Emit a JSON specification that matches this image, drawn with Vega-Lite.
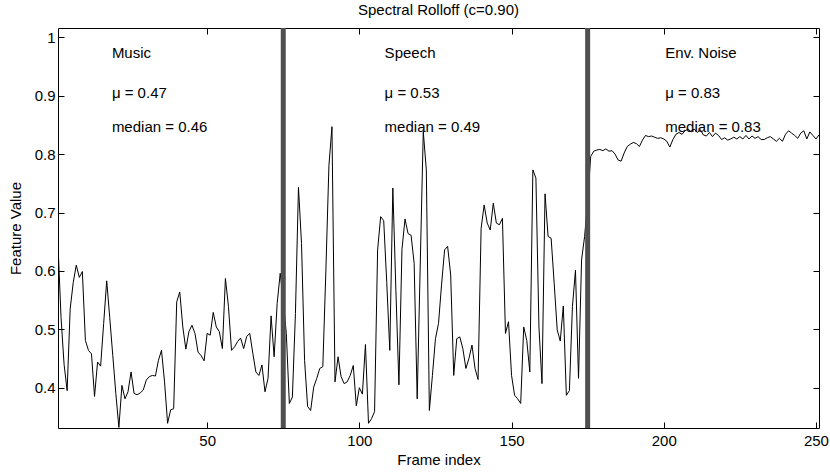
{
  "$schema": "https://vega.github.io/schema/vega-lite/v6.json",
  "width": 761,
  "height": 400,
  "autosize": {"type": "none"},
  "padding": {"left": 58, "top": 28, "right": 11, "bottom": 44},
  "background": "white",
  "config": {
    "font": "Liberation Sans",
    "view": {"stroke": "black", "strokeWidth": 1},
    "axis": {
      "domain": false,
      "grid": false,
      "ticks": true,
      "tickSize": -6,
      "tickColor": "black",
      "tickWidth": 1,
      "labelFont": "Liberation Sans",
      "labelFontSize": 15,
      "labelColor": "black",
      "titleFont": "Liberation Sans",
      "titleFontSize": 15,
      "titleFontWeight": "normal",
      "titleColor": "black"
    },
    "title": {"font": "Liberation Sans", "fontSize": 15, "fontWeight": "normal", "color": "black"}
  },
  "title": {"text": "Spectral Rolloff (c=0.90)", "baseline": "bottom", "offset": 6, "dy": 13},
  "datasets": {
    "series": [
      {"frame":1,"value":0.645},{"frame":2,"value":0.52},{"frame":3,"value":0.44},{"frame":4,"value":0.395},{"frame":5,"value":0.535},
      {"frame":6,"value":0.58},{"frame":7,"value":0.61},{"frame":8,"value":0.589},{"frame":9,"value":0.599},{"frame":10,"value":0.481},
      {"frame":11,"value":0.464},{"frame":12,"value":0.458},{"frame":13,"value":0.385},{"frame":14,"value":0.444},{"frame":15,"value":0.437},
      {"frame":16,"value":0.51},{"frame":17,"value":0.583},{"frame":18,"value":0.52},{"frame":19,"value":0.455},{"frame":20,"value":0.39},
      {"frame":21,"value":0.332},{"frame":22,"value":0.404},{"frame":23,"value":0.381},{"frame":24,"value":0.393},{"frame":25,"value":0.427},
      {"frame":26,"value":0.39},{"frame":27,"value":0.388},{"frame":28,"value":0.391},{"frame":29,"value":0.396},{"frame":30,"value":0.413},
      {"frame":31,"value":0.419},{"frame":32,"value":0.421},{"frame":33,"value":0.42},{"frame":34,"value":0.447},{"frame":35,"value":0.464},
      {"frame":36,"value":0.41},{"frame":37,"value":0.339},{"frame":38,"value":0.362},{"frame":39,"value":0.364},{"frame":40,"value":0.547},
      {"frame":41,"value":0.564},{"frame":42,"value":0.504},{"frame":43,"value":0.466},{"frame":44,"value":0.496},{"frame":45,"value":0.507},
      {"frame":46,"value":0.493},{"frame":47,"value":0.461},{"frame":48,"value":0.455},{"frame":49,"value":0.446},{"frame":50,"value":0.493},
      {"frame":51,"value":0.49},{"frame":52,"value":0.529},{"frame":53,"value":0.504},{"frame":54,"value":0.496},{"frame":55,"value":0.467},
      {"frame":56,"value":0.587},{"frame":57,"value":0.539},{"frame":58,"value":0.464},{"frame":59,"value":0.47},{"frame":60,"value":0.479},
      {"frame":61,"value":0.485},{"frame":62,"value":0.467},{"frame":63,"value":0.488},{"frame":64,"value":0.493},{"frame":65,"value":0.459},
      {"frame":66,"value":0.427},{"frame":67,"value":0.421},{"frame":68,"value":0.439},{"frame":69,"value":0.393},{"frame":70,"value":0.416},
      {"frame":71,"value":0.523},{"frame":72,"value":0.453},{"frame":73,"value":0.544},{"frame":74,"value":0.596},{"frame":75,"value":0.55},
      {"frame":76,"value":0.493},{"frame":77,"value":0.373},{"frame":78,"value":0.384},{"frame":79,"value":0.527},{"frame":80,"value":0.743},
      {"frame":81,"value":0.647},{"frame":82,"value":0.447},{"frame":83,"value":0.368},{"frame":84,"value":0.361},{"frame":85,"value":0.401},
      {"frame":86,"value":0.416},{"frame":87,"value":0.433},{"frame":88,"value":0.436},{"frame":89,"value":0.6},{"frame":90,"value":0.78},
      {"frame":91,"value":0.847},{"frame":92,"value":0.41},{"frame":93,"value":0.453},{"frame":94,"value":0.419},{"frame":95,"value":0.407},
      {"frame":96,"value":0.41},{"frame":97,"value":0.421},{"frame":98,"value":0.438},{"frame":99,"value":0.369},{"frame":100,"value":0.4},
      {"frame":101,"value":0.389},{"frame":102,"value":0.474},{"frame":103,"value":0.339},{"frame":104,"value":0.347},{"frame":105,"value":0.359},
      {"frame":106,"value":0.636},{"frame":107,"value":0.693},{"frame":108,"value":0.686},{"frame":109,"value":0.58},{"frame":110,"value":0.464},
      {"frame":111,"value":0.742},{"frame":112,"value":0.567},{"frame":113,"value":0.405},{"frame":114,"value":0.637},{"frame":115,"value":0.689},
      {"frame":116,"value":0.664},{"frame":117,"value":0.661},{"frame":118,"value":0.613},{"frame":119,"value":0.381},{"frame":120,"value":0.61},
      {"frame":121,"value":0.839},{"frame":122,"value":0.773},{"frame":123,"value":0.361},{"frame":124,"value":0.421},{"frame":125,"value":0.484},
      {"frame":126,"value":0.51},{"frame":127,"value":0.576},{"frame":128,"value":0.636},{"frame":129,"value":0.642},{"frame":130,"value":0.593},
      {"frame":131,"value":0.421},{"frame":132,"value":0.484},{"frame":133,"value":0.487},{"frame":134,"value":0.467},{"frame":135,"value":0.433},
      {"frame":136,"value":0.45},{"frame":137,"value":0.473},{"frame":138,"value":0.433},{"frame":139,"value":0.414},{"frame":140,"value":0.673},
      {"frame":141,"value":0.713},{"frame":142,"value":0.682},{"frame":143,"value":0.67},{"frame":144,"value":0.716},{"frame":145,"value":0.682},
      {"frame":146,"value":0.679},{"frame":147,"value":0.69},{"frame":148,"value":0.493},{"frame":149,"value":0.513},{"frame":150,"value":0.421},
      {"frame":151,"value":0.387},{"frame":152,"value":0.381},{"frame":153,"value":0.373},{"frame":154,"value":0.504},{"frame":155,"value":0.481},
      {"frame":156,"value":0.427},{"frame":157,"value":0.773},{"frame":158,"value":0.759},{"frame":159,"value":0.504},{"frame":160,"value":0.407},
      {"frame":161,"value":0.732},{"frame":162,"value":0.659},{"frame":163,"value":0.656},{"frame":164,"value":0.579},{"frame":165,"value":0.499},
      {"frame":166,"value":0.48},{"frame":167,"value":0.54},{"frame":168,"value":0.387},{"frame":169,"value":0.395},{"frame":170,"value":0.539},
      {"frame":171,"value":0.601},{"frame":172,"value":0.416},{"frame":173,"value":0.619},{"frame":174,"value":0.659},{"frame":175,"value":0.72},
      {"frame":176,"value":0.796},{"frame":177,"value":0.805},{"frame":178,"value":0.807},{"frame":179,"value":0.808},{"frame":180,"value":0.806},
      {"frame":181,"value":0.809},{"frame":182,"value":0.805},{"frame":183,"value":0.806},{"frame":184,"value":0.8},{"frame":185,"value":0.79},
      {"frame":186,"value":0.788},{"frame":187,"value":0.802},{"frame":188,"value":0.813},{"frame":189,"value":0.817},{"frame":190,"value":0.82},
      {"frame":191,"value":0.818},{"frame":192,"value":0.813},{"frame":193,"value":0.824},{"frame":194,"value":0.832},{"frame":195,"value":0.83},
      {"frame":196,"value":0.831},{"frame":197,"value":0.829},{"frame":198,"value":0.827},{"frame":199,"value":0.828},{"frame":200,"value":0.826},
      {"frame":201,"value":0.822},{"frame":202,"value":0.812},{"frame":203,"value":0.825},{"frame":204,"value":0.834},{"frame":205,"value":0.837},
      {"frame":206,"value":0.834},{"frame":207,"value":0.84},{"frame":208,"value":0.843},{"frame":209,"value":0.838},{"frame":210,"value":0.843},
      {"frame":211,"value":0.837},{"frame":212,"value":0.842},{"frame":213,"value":0.833},{"frame":214,"value":0.831},{"frame":215,"value":0.837},
      {"frame":216,"value":0.83},{"frame":217,"value":0.836},{"frame":218,"value":0.832},{"frame":219,"value":0.825},{"frame":220,"value":0.828},
      {"frame":221,"value":0.824},{"frame":222,"value":0.826},{"frame":223,"value":0.829},{"frame":224,"value":0.826},{"frame":225,"value":0.83},
      {"frame":226,"value":0.826},{"frame":227,"value":0.832},{"frame":228,"value":0.826},{"frame":229,"value":0.831},{"frame":230,"value":0.827},
      {"frame":231,"value":0.83},{"frame":232,"value":0.825},{"frame":233,"value":0.825},{"frame":234,"value":0.828},{"frame":235,"value":0.83},
      {"frame":236,"value":0.826},{"frame":237,"value":0.822},{"frame":238,"value":0.827},{"frame":239,"value":0.822},{"frame":240,"value":0.834},
      {"frame":241,"value":0.84},{"frame":242,"value":0.836},{"frame":243,"value":0.832},{"frame":244,"value":0.827},{"frame":245,"value":0.836},
      {"frame":246,"value":0.84},{"frame":247,"value":0.826},{"frame":248,"value":0.838},{"frame":249,"value":0.832},{"frame":250,"value":0.826},
      {"frame":251,"value":0.833}
    ],
    "separators": [{"frame": 75}, {"frame": 175}],
    "labels": [
      {"frame": 18.7, "value": 0.974, "label": "Music"},
      {"frame": 18.7, "value": 0.905, "label": "μ = 0.47"},
      {"frame": 18.7, "value": 0.847, "label": "median = 0.46"},
      {"frame": 108.3, "value": 0.974, "label": "Speech"},
      {"frame": 108.3, "value": 0.905, "label": "μ = 0.53"},
      {"frame": 108.3, "value": 0.847, "label": "median = 0.49"},
      {"frame": 200.5, "value": 0.974, "label": "Env. Noise"},
      {"frame": 200.5, "value": 0.905, "label": "μ = 0.83"},
      {"frame": 200.5, "value": 0.847, "label": "median = 0.83"}
    ]
  },
  "resolve": {"axis": {"x": "independent", "y": "independent"}},
  "layer": [
    {
      "data": {"name": "series"},
      "mark": {"type": "line", "color": "black", "strokeWidth": 1, "clip": true},
      "encoding": {
        "x": {"field": "frame", "type": "quantitative",
              "scale": {"domain": [1, 251], "nice": false, "zero": false},
              "axis": {"orient": "bottom", "values": [50, 100, 150, 200, 250], "title": "Frame index", "labelPadding": 11.5, "titlePadding": 4}},
        "y": {"field": "value", "type": "quantitative",
              "scale": {"domain": [0.331, 1.016], "nice": false, "zero": false},
              "axis": {"orient": "left", "values": [0.4, 0.5, 0.6, 0.7, 0.8, 0.9, 1], "format": "~g", "title": "Feature Value", "labelPadding": 9, "titlePadding": 11}}
      }
    },
    {
      "data": {"name": "separators"},
      "mark": {"type": "rule", "color": "#505050", "strokeWidth": 5},
      "encoding": {
        "x": {"field": "frame", "type": "quantitative",
              "scale": {"domain": [1, 251], "nice": false, "zero": false},
              "axis": {"orient": "top", "values": [50, 100, 150, 200, 250], "labels": false, "title": null}}
      }
    },
    {
      "data": {"name": "labels"},
      "mark": {"type": "text", "align": "left", "baseline": "middle", "fontSize": 15, "font": "Liberation Sans", "color": "black"},
      "encoding": {
        "x": {"field": "frame", "type": "quantitative",
              "scale": {"domain": [1, 251], "nice": false, "zero": false}, "axis": null},
        "y": {"field": "value", "type": "quantitative",
              "scale": {"domain": [0.331, 1.016], "nice": false, "zero": false},
              "axis": {"orient": "right", "values": [0.4, 0.5, 0.6, 0.7, 0.8, 0.9, 1], "labels": false, "title": null}},
        "text": {"field": "label", "type": "nominal"}
      }
    }
  ]
}
